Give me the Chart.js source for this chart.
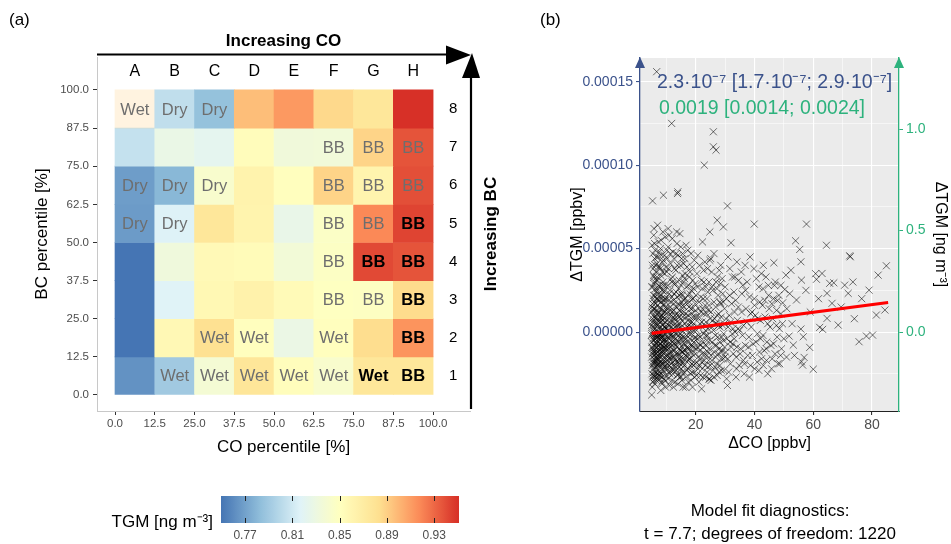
<!DOCTYPE html>
<html>
<head>
<meta charset="utf-8">
<script src="https://cdn.jsdelivr.net/npm/chart.js@4.4.1/dist/chart.umd.min.js"></script>
<style>
  html, body { margin: 0; padding: 0; background: #fff; width: 951px; height: 544px; overflow: hidden;
    font-family: "Liberation Sans", Arial, sans-serif; }
  .box { position: absolute; }
  .txt { position: absolute; white-space: nowrap; color: #000; }
  canvas { display: block; }
</style>
</head>
<body>
<div class="box" style="left:0;top:0;width:520px;height:470px"><canvas id="heat"></canvas></div>
<div class="box" style="left:520px;top:0;width:431px;height:544px"><canvas id="scatter"></canvas></div>
<div class="box" style="left:200px;top:480px;width:280px;height:64px"><canvas id="tgmbar"></canvas></div>

<div class="txt" style="left:9px;top:10px;font-size:17px;line-height:20px">(a)</div>
<div class="txt" style="left:540px;top:10px;font-size:17px;line-height:20px">(b)</div>
<div class="txt" style="left:0;width:213px;text-align:right;top:512px;font-size:17px;line-height:20px">TGM [ng m⁻³]</div>
<div class="txt" style="left:600px;width:340px;text-align:center;top:499px;font-size:17px;line-height:23px">Model fit diagnostics:<br>t = 7.7; degrees of freedom: 1220</div>
<div class="txt" style="left:657px;top:69px;font-size:19.5px;line-height:24px;color:#3b528b">2.3·10⁻⁷ [1.7·10⁻⁷; 2.9·10⁻⁷]</div>
<div class="txt" style="left:659px;top:95px;font-size:19.5px;line-height:24px;color:#2db27d">0.0019 [0.0014; 0.0024]</div>

<script>
// ---------- panel (a): TGM by CO / BC percentile class ----------
const coBins = ['A', 'B', 'C', 'D', 'E', 'F', 'G', 'H'];
const bcBins = ['1', '2', '3', '4', '5', '6', '7', '8'];
const percentileEdges = [0, 12.5, 25, 37.5, 50, 62.5, 75, 87.5, 100];

// mean TGM [ng m-3]; rows = BC class 1..8, columns = CO class A..H
const tgmMean = [
  [0.763, 0.790, 0.838, 0.877, 0.852, 0.842, 0.876, 0.876],
  [0.750, 0.857, 0.882, 0.851, 0.828, 0.851, 0.884, 0.914],
  [0.750, 0.817, 0.858, 0.864, 0.855, 0.849, 0.848, 0.885],
  [0.750, 0.833, 0.856, 0.854, 0.836, 0.847, 0.941, 0.937],
  [0.767, 0.816, 0.876, 0.862, 0.826, 0.846, 0.918, 0.943],
  [0.768, 0.780, 0.842, 0.863, 0.851, 0.888, 0.862, 0.939],
  [0.805, 0.827, 0.822, 0.853, 0.834, 0.835, 0.888, 0.937],
  [0.890, 0.803, 0.785, 0.897, 0.912, 0.886, 0.876, 0.950]
];
const cellAlpha = [
  [1, 1, 1, 1, 1, 1, 1, 1],
  [1, 1, 1, 1, 1, 1, 1, 1],
  [1, 1, 1, 1, 1, 1, 1, 1],
  [1, 1, 1, 1, 1, 1, 1, 1],
  [1, 1, 1, 1, 1, 1, 1, 1],
  [1, 1, 1, 1, 1, 1, 1, 1],
  [1, 1, 1, 1, 1, 1, 1, 1],
  [0.25, 1, 1, 1, 1, 1, 1, 1]
];
// air-mass regime assigned to each class
const regime = [
  ['',    'Wet', 'Wet', 'Wet', 'Wet', 'Wet', 'Wet', 'BB'],
  ['',    '',    'Wet', 'Wet', '',    'Wet', '',    'BB'],
  ['',    '',    '',    '',    '',    'BB',  'BB',  'BB'],
  ['',    '',    '',    '',    '',    'BB',  'BB',  'BB'],
  ['Dry', 'Dry', '',    '',    '',    'BB',  'BB',  'BB'],
  ['Dry', 'Dry', 'Dry', '',    '',    'BB',  'BB',  'BB'],
  ['',    '',    '',    '',    '',    'BB',  'BB',  'BB'],
  ['Wet', 'Dry', 'Dry', '',    '',    '',    '',    '']
];
const regimeBold = [
  [0, 0, 0, 0, 0, 0, 1, 1],
  [0, 0, 0, 0, 0, 0, 0, 1],
  [0, 0, 0, 0, 0, 0, 0, 1],
  [0, 0, 0, 0, 0, 0, 1, 1],
  [0, 0, 0, 0, 0, 0, 0, 1],
  [0, 0, 0, 0, 0, 0, 0, 0],
  [0, 0, 0, 0, 0, 0, 0, 0],
  [0, 0, 0, 0, 0, 0, 0, 0]
];
const tgmTicks = [0.77, 0.81, 0.85, 0.89, 0.93];
const tgmLimits = [0.75, 0.95];

// ---------- panel (b): ΔTGM vs ΔCO ----------
// [ΔCO ppbv, ΔTGM in 1e-6 ppbv]
const observations = [
  [5.0,-37.7],[5.3,78.6],[6.7,156],[5.2,-20],[5.5,-12],[5.8,-5],[6.1,2],[6.4,8],[5.1,15],[5.6,22],
  [6.9,-25],[7.2,-17],[5.4,-30],[6.2,-9],[6.6,-2],[7.0,4],[7.3,11],[5.9,18],[6.3,26],[5.7,33],
  [6.8,41],[7.1,-14],[5.0,-6],[5.2,3],[5.5,10],[6.0,-22],[6.5,-16],[7.4,-8],[5.3,-27],[6.1,14],
  [6.7,20],[7.0,-3],[5.6,-11],[5.8,29],[6.4,36],[7.2,45],[5.1,52],[6.0,-1],[6.9,7],[5.4,-18],
  [5.9,-24],[7.3,23],[6.2,49],[5.7,58],[6.6,-29],[5.0,12],[7.5,-11],[6.3,-6],[5.5,38],[6.8,-19],
  [7.4,2],[5.2,-33],[6.0,44],[6.4,-13],[7.1,16],[5.8,62],[6.7,-7],[5.3,27],[7.0,31],[6.1,-31],
  [5.0,-15],[7.2,-23],[6.5,5],[5.6,1],[6.9,-12],[7.3,39],[5.4,47],[6.2,-4],[5.9,9],[6.6,13],[5.1,-9],
  [5.4,-4],[5.7,6],[6.0,-14],[6.3,17],[6.6,-21],[6.9,0],[7.2,-6],[7.5,7],[5.1,-25],[5.5,20],
  [6.2,-17],[6.8,11],[7.4,-16],[5.9,-8],[6.5,24],[7.1,-28],[5.3,8],[6.0,30],[6.7,-11],[7.3,-1],
  [5.6,-19],[6.4,-24],[7.0,19],[5.2,-13],[5.8,-2],[6.1,-27],[6.9,26],[7.5,-4],[5.0,4],[6.3,-19],
  [4.9,-2],[5.1,6],[5.3,-10],[5.6,14],[5.8,-16],[6.0,22],[6.2,-26],[6.5,31],[6.7,-1],[6.9,-9],
  [7.1,5],[7.3,-19],[5.0,27],[5.2,40],[5.5,-22],[5.7,-29],[6.0,53],[6.3,-3],[6.6,9],[6.8,33],
  [7.0,-20],[7.3,54],[5.1,-1],[5.4,13],[5.6,-26],[5.9,3],[6.1,-12],[6.4,-7],[6.6,45],[6.9,-16],
  [7.1,-3],[7.4,21],[5.3,17],[5.6,34],[6.0,-18],[6.3,40],[6.7,-15],[7.0,64],[7.4,-26],
  [7.6,-26],[7.9,-18],[8.2,-10],[8.5,-3],[8.8,4],[9.1,12],[9.4,19],[9.7,-21],[7.8,27],[8.1,34],
  [8.4,-14],[8.7,-6],[9.0,1],[9.3,8],[9.6,-29],[9.9,15],[7.7,-1],[8.0,6],[8.3,22],[8.6,-17],
  [8.9,30],[9.2,-9],[9.5,-2],[9.8,39],[7.6,48],[8.2,55],[8.8,60],[9.0,82],[9.4,-24],[8.5,-31],
  [7.9,9],[9.1,-13],[9.7,3],[8.4,14],[8.0,-7],[9.3,25],[9.9,-16],[7.7,-20],[8.6,42],[9.5,-5],
  [8.1,-35],[8.9,-11],[9.2,17],[7.8,-28],[9.6,28],[8.3,-4],[8.7,2],[9.8,-10],[7.5,19],[8.0,38],
  [9.0,-19],[9.4,46],[8.5,10],[9.7,-33],
  [8.0,-15],[8.3,1],[8.6,7],[8.9,-23],[9.2,5],[9.5,12],[9.8,-8],[7.7,14],[8.1,-25],[8.4,20],
  [8.7,-12],[9.0,16],[9.3,-17],[9.6,-1],[9.9,-26],[7.9,-3],[8.2,-20],[8.8,9],[9.1,24],[9.4,-9],
  [9.7,20],[8.5,-27],[7.6,3],[9.0,-5],
  [7.6,12],[7.8,-7],[8.1,18],[8.3,-13],[8.6,25],[8.8,-2],[9.1,-21],[9.3,35],[9.6,6],[9.8,-14],
  [7.5,28],[7.8,-11],[8.0,50],[8.2,-1],[8.4,-30],[8.7,36],[8.9,11],[9.2,-4],[9.4,3],[9.6,57],[9.9,-20],
  [7.6,-13],[7.9,-24],[8.2,8],[8.4,-9],[8.7,-19],[9.0,28],[9.2,-28],[9.5,20],[9.8,2],
  [7.7,39],[8.0,-2],[8.3,46],[8.6,-8],[9.0,43],[9.3,-10],[9.7,-6],
  [10.1,-22],[10.4,-14],[10.7,-7],[11.0,0],[11.3,6],[11.6,13],[11.9,21],[12.2,-18],[12.5,29],[12.8,-11],
  [10.2,36],[10.5,-3],[10.8,4],[11.1,-25],[11.4,-16],[11.7,10],[12.0,-8],[12.3,2],[12.6,17],[12.9,-30],
  [10.3,44],[10.6,51],[10.9,-20],[11.2,25],[11.5,-2],[11.8,-12],[12.1,33],[12.4,-5],[12.7,8],[11.8,125],
  [10.0,14],[10.9,58],[11.5,41],[12.4,-33],[12.4,-23],[10.6,-28],[11.2,-9],[12.0,-1],[12.7,23],[10.3,7],
  [11.7,-19],[12.9,3],[10.8,-13],[11.4,18],[12.2,48],[10.5,28],[11.0,-32],[12.6,-15],
  [10.2,-17],[10.6,1],[11.0,10],[11.4,-7],[11.8,3],[12.2,-25],[12.6,-3],[10.4,20],[10.8,-24],[11.2,15],
  [11.6,-21],[12.0,12],[12.4,6],[12.8,-20],[10.1,-5],[11.3,-15],[12.5,13],[10.7,-10],[11.9,-29],[12.3,-11],
  [10.1,2],[10.3,-19],[10.5,12],[10.8,-4],[11.0,23],[11.3,-12],[11.5,7],[11.8,-23],[12.0,30],[12.3,-15],
  [12.5,0],[12.8,10],[10.2,49],[10.7,38],[11.1,-1],[11.6,32],[12.1,-6],[12.6,44],[10.4,-9],[10.9,-16],
  [11.4,3],[11.9,-3],[12.4,19],[12.9,-7],[10.6,62],[11.3,47],[12.0,56],[12.8,38],
  [13.1,-21],[13.4,-13],[13.7,-5],[14.0,2],[14.3,9],[14.6,16],[14.9,-17],[15.2,23],[15.5,-9],[15.8,30],
  [13.2,37],[13.5,-1],[13.8,83],[13.9,84],[14.1,-25],[14.4,-10],[14.7,5],[15.0,12],[15.3,-29],[15.6,-3],
  [15.9,19],[13.3,47],[13.6,53],[13.9,-14],[14.2,26],[14.5,-6],[14.8,40],[15.1,-22],[15.4,1],[15.7,-12],
  [13.0,8],[14.0,-31],[14.6,-19],[15.2,44],[15.7,-33],[13.4,15],[14.3,-2],[15.0,-15],[15.5,34],[13.8,-26],
  [14.9,3],[15.8,-7],[13.6,21],[14.4,31],[15.3,7],
  [13.2,-8],[13.6,6],[14.0,-18],[14.4,13],[14.8,-11],[15.2,-2],[15.6,9],[13.4,-23],[13.9,4],[14.6,-27],
  [15.1,18],[15.7,-18],[13.1,-1],[14.2,-13],[15.4,-24],[13.7,11],[14.9,-4],[15.9,-11],
  [13.0,-17],[13.3,24],[13.5,-9],[13.8,3],[14.0,17],[14.3,-21],[14.5,9],[14.8,-1],[15.0,28],[15.3,-12],
  [15.5,-19],[15.8,12],[13.1,29],[13.5,60],[14.0,46],[14.4,-16],[14.9,51],[15.4,22],[15.9,41],
  [13.4,-18],[13.9,-6],[14.5,22],[15.0,-27],[15.6,16],[13.7,40],[14.6,59],[15.5,47],
  [16.1,-20],[16.4,-11],[16.8,-4],[17.1,3],[17.5,10],[17.8,18],[18.2,-16],[18.5,25],[18.9,-8],[19.2,1],
  [19.6,-24],[19.9,13],[16.2,32],[16.6,-27],[17.0,39],[17.3,-13],[17.7,-1],[18.0,6],[18.4,47],[18.7,-19],
  [19.1,20],[19.4,-6],[19.8,29],[16.0,15],[16.5,-33],[17.2,22],[17.9,-10],[18.6,3],[19.3,-14],[18.9,-33],
  [16.9,-2],[17.6,28],[18.3,-25],[19.0,9],[19.7,-3],[16.3,5],[17.4,-17],[18.1,36],[18.8,14],[19.5,43],[16.7,52],
  [16.2,-7],[16.8,9],[17.4,-22],[18.0,-4],[18.6,11],[19.2,-20],[16.5,2],[17.1,-15],[17.7,15],[18.3,-8],
  [18.9,20],[19.5,-12],[16.0,-16],[17.0,-9],[18.5,-1],[19.9,-19],
  [16.0,-5],[16.3,20],[16.5,-14],[16.8,27],[17.0,-23],[17.3,7],[17.5,-6],[17.8,-16],[18.0,23],[18.3,1],
  [18.5,-12],[18.8,-24],[19.0,31],[19.3,5],[19.5,-4],[19.8,17],[16.4,35],[16.9,18],[17.3,49],[17.8,33],
  [18.3,14],[18.8,39],[19.3,26],[16.1,-24],[16.6,11],[17.2,-10],[17.7,4],[18.2,-20],[18.7,6],[19.2,-9],
  [19.7,9],[16.3,44],[17.5,-30],[18.4,-29],[19.6,-27],
  [20.2,-18],[20.6,-9],[21.0,-2],[21.4,5],[21.8,12],[22.2,-22],[22.6,20],[23.0,-13],[23.4,27],[23.8,-5],
  [24.2,2],[24.6,-28],[20.4,35],[20.8,-15],[21.2,9],[21.6,-26],[22.0,-34],[22.3,54],[22.9,100],[23.2,16],
  [23.6,-8],[24.0,38],[24.4,-17],[24.8,60],[20.1,22],[21.1,-30],[21.9,31],[22.7,-1],[23.5,6],[24.3,13],
  [20.7,46],[21.5,-11],[22.4,-6],[23.1,42],[24.1,-21],[24.9,8],[20.3,1],[22.8,30],
  [20.5,-4],[21.3,-20],[22.1,6],[22.9,-17],[23.7,11],[24.5,-10],[21.0,14],[21.7,-8],[22.5,-27],[23.3,1],
  [24.0,-2],[20.9,3],[22.2,-13],[23.9,-24],
  [20.1,-10],[20.4,9],[20.8,-22],[21.1,18],[21.5,-3],[21.8,-16],[22.2,26],[22.5,-9],[22.8,11],[23.2,-20],
  [23.5,-2],[23.8,20],[24.2,-12],[24.5,30],[24.8,-5],[20.6,27],[21.3,40],[22.0,-18],[22.7,37],[23.4,-27],
  [24.1,24],[24.8,43],[20.3,-26],[21.0,-7],[21.7,21],[22.4,14],[23.1,4],[23.8,-14],[24.5,16],
  [25.2,-14],[25.6,-6],[26.0,1],[26.4,8],[26.8,15],[27.2,-19],[27.6,22],[28.0,-10],[28.4,29],[28.8,-3],
  [29.2,4],[29.6,-23],[26.0,120],[26.0,111],[26.9,109],[27.3,67],[27.3,-26],[29.4,63],[25.4,36],[26.2,-27],
  [27.0,-8],[27.8,11],[28.6,-16],[29.4,18],[25.8,25],[26.6,-21],[27.4,33],[28.2,3],[29.0,-11],[29.8,14],
  [25.1,44],[28.5,40],[24.6,-28.3],
  [25.5,3],[26.3,-12],[27.1,5],[27.9,-24],[28.7,9],[29.5,-5],[26.7,-2],[28.3,-6],[25.0,-20],[29.9,-15],
  [25.2,12],[25.5,-17],[25.8,7],[26.2,18],[26.5,-8],[26.8,-15],[27.2,26],[27.5,-3],[27.8,4],[28.2,-20],
  [28.5,17],[28.8,-12],[29.2,23],[29.5,-1],[29.8,-9],[25.5,27],[26.2,47],[26.9,30],[27.6,-13],[28.3,18],
  [29.0,32],[29.7,5],[25.2,-29],[25.9,-23],[26.6,5],[27.3,10],[28.0,37],[28.7,-23],[29.4,-16],
  [30.2,-12],[30.6,-4],[31.0,3],[31.4,10],[31.8,-19],[32.2,17],[32.6,-7],[33.0,24],[33.4,0],[33.8,-15],
  [34.2,7],[34.6,31],[30.8,75.6],[30.8,-32],[32.0,53.5],[30.4,20],[31.2,-24],[32.4,-1],[33.2,12],[34.0,-9],
  [34.8,-20],[31.6,38],[33.6,19],[32.8,-13],[30.0,27],[34.4,2],[31.9,6],[33.1,-4],
  [30.3,8],[30.9,-16],[31.5,22],[32.1,-9],[32.7,2],[33.3,33],[33.9,-22],[34.5,15],[31.0,45],[32.5,33],
  [34.0,42],[30.5,-28],[31.7,-6],[33.7,-27],
  [35.3,-10],[35.9,-2],[36.5,-25],[37.1,14],[37.7,-14],[38.3,21],[38.9,3],[39.5,-7],[39.9,64.7],[40.3,10],
  [40.9,-18],[41.5,27],[42.1,-4],[42.7,16],[43.3,-11],[43.9,33],[44.5,5],[36.0,28],[37.4,6],[38.6,-20],
  [39.8,38],[41.0,-1],[42.4,-16],[43.6,9],[44.8,22],[35.6,12],[36.8,40],[38.0,-9],[40.6,32],[41.8,18],
  [43.0,-20],[44.2,-6],[45.0,14],[36.2,-17],[39.2,12],[42.9,26],
  [35.1,-13],[35.7,23],[36.3,4],[36.9,-8],[37.5,30],[38.1,-3],[38.7,11],[39.3,-14],[39.9,20],[40.5,-6],
  [41.1,8],[41.7,-12],[42.3,35],[42.9,-2],[43.5,19],[44.1,-17],[44.7,28],[35.5,36],[37.0,25],[38.5,45],
  [40.0,16],[41.5,-23],[43.0,40],[44.5,-25],[35.0,1],[36.6,-19],[38.3,-27],[40.1,-22],[42.0,7],[44.0,-10],
  [45.6,-8],[46.6,41.5],[46.2,8],[47.0,-13],[47.8,19],[48.5,2],[49.2,-10],[49.6,17.5],[50.3,25.5],[50.7,34.1],
  [51.8,-2.4],[53.2,-7.8],[54.3,19.2],[54.0,54.7],[55.4,49.5],[46.8,28],[48.0,-19],[49.0,11],[50.0,-4],[51.0,14],
  [52.0,23],[52.8,5],[53.6,-14],[45.8,-22],[47.5,4],[50.9,-15],[52.4,37],
  [45.3,3],[45.9,17],[46.5,-7],[47.1,30],[47.7,-3],[48.3,22],[48.9,-14],[49.5,5],[46.0,-16],[47.5,13],
  [49.0,28],[46.5,20],[48.6,-19],
  [55.8,42.1],[56.0,31.1],[55.8,1.8],[56.6,-2.8],[56.9,-15.2],[56.0,-17.8],[56.4,-19.8],[57.7,64.7],[58.8,-9.2],[60.0,-22.3],
  [61.1,31.6],[62.2,2.8],[63.0,35.1],[63.2,1.6],[64.5,52],[64.7,23.2],[64.7,8.2],[65.6,29.2],[66.4,17.2],[59.0,12],
  [61.8,20],[57.5,25],[60.8,35],
  [67.0,29.5],[68.5,4.2],[70.7,28.1],[71.9,23.2],[72.4,45.7],[72.6,45.1],[75.6,-5.8],[78.1,-2.4],[79.0,25.1],[80.2,-1.8],
  [81.5,10.2],[82.1,34.1],[84.4,13.2],[84.9,39.7],[69.5,15],[73.5,30],[76.5,20],[74.0,8]
];
// least-squares fit, ΔTGM in 1e-6 ppbv
const fitLine = [[5.0, -0.8], [85.5, 17.7]];
const coGrid = [10, 20, 30, 40, 50, 60, 70, 80];
const coTicks = [20, 40, 60, 80];
const dTgmGrid = [-0.000025, 0, 0.000025, 0.00005, 0.000075, 0.0001, 0.000125, 0.00015];
const dTgmTicks = [0, 0.00005, 0.0001, 0.00015];
const tgmConcTicks = [0, 0.5, 1.0];
const ngPerPpbv = 8220;

// ---------- colour scale ----------
const FONT = '"Liberation Sans", Arial, sans-serif';
Chart.defaults.font.family = FONT;
const rdylbu = ['#4575b4', '#91bfdb', '#e0f3f8', '#ffffbf', '#fee090', '#fc8d59', '#d73027'];
const stops = rdylbu.map(h => [1, 3, 5].map(i => parseInt(h.slice(i, i + 2), 16)));
function tgmColor(v, a = 1) {
  let t = (v - tgmLimits[0]) / (tgmLimits[1] - tgmLimits[0]);
  t = Math.max(0, Math.min(1, t));
  const p = t * (stops.length - 1);
  const i = Math.min(Math.floor(p), stops.length - 2);
  const f = p - i;
  const c = [0, 1, 2].map(k => Math.round(stops[i][k] + (stops[i + 1][k] - stops[i][k]) * f));
  return `rgba(${c[0]},${c[1]},${c[2]},${a})`;
}

// ---------- heatmap ----------
const cells = [];
bcBins.forEach((b, r) => coBins.forEach((c, k) => cells.push({
  x: (percentileEdges[k] + percentileEdges[k + 1]) / 2,
  y: [percentileEdges[r], percentileEdges[r + 1]],
  v: tgmMean[r][k], a: cellAlpha[r][k], label: regime[r][k], bold: regimeBold[r][k]
})));

const heatDecor = {
  id: 'heatDecor',
  afterDatasetsDraw(chart) {
    const { ctx, chartArea: ca, scales: { x, y } } = chart;
    ctx.save();
    ctx.textAlign = 'center';
    ctx.textBaseline = 'middle';
    cells.forEach(c => {
      if (!c.label) return;
      ctx.font = (c.bold ? 'bold ' : '') + '16.5px ' + FONT;
      ctx.fillStyle = c.bold ? '#000' : '#6e6e6e';
      ctx.fillText(c.label, x.getPixelForValue(c.x), y.getPixelForValue((c.y[0] + c.y[1]) / 2) + 1);
    });
    ctx.fillStyle = '#000';
    ctx.font = '16px ' + FONT;
    coBins.forEach((b, k) => ctx.fillText(b, x.getPixelForValue((percentileEdges[k] + percentileEdges[k + 1]) / 2), y.getPixelForValue(106)));
    ctx.font = '15px ' + FONT;
    bcBins.forEach((b, r) => ctx.fillText(b, x.getPixelForValue(106.3), y.getPixelForValue((percentileEdges[r] + percentileEdges[r + 1]) / 2)));

    // direction arrows along the top and right edges
    ctx.strokeStyle = '#000';
    ctx.fillStyle = '#000';
    ctx.lineWidth = 2.2;
    ctx.beginPath();
    ctx.moveTo(ca.left, ca.top - 2.5); ctx.lineTo(ca.right - 22, ca.top - 2.5);
    ctx.moveTo(ca.right + 1, ca.bottom - 2); ctx.lineTo(ca.right + 1, ca.top + 20);
    ctx.stroke();
    ctx.beginPath();
    ctx.moveTo(ca.right - 24, ca.top - 11.5); ctx.lineTo(ca.right + 1, ca.top - 2); ctx.lineTo(ca.right - 24, ca.top + 7.5);
    ctx.closePath(); ctx.fill();
    ctx.beginPath();
    ctx.moveTo(ca.right - 8, ca.top + 21); ctx.lineTo(ca.right + 2, ca.top - 4); ctx.lineTo(ca.right + 10, ca.top + 21);
    ctx.closePath(); ctx.fill();

    ctx.font = 'bold 17px ' + FONT;
    ctx.fillText('Increasing CO', (ca.left + ca.right) / 2, ca.top - 16);
    ctx.translate(ca.right + 21, (ca.top + ca.bottom) / 2);
    ctx.rotate(-Math.PI / 2);
    ctx.fillText('Increasing BC', 0, 0);
    ctx.restore();
  }
};

new Chart(document.getElementById('heat'), {
  type: 'bar',
  data: {
    datasets: [{
      data: cells,
      backgroundColor: ctx => ctx.raw ? tgmColor(ctx.raw.v, ctx.raw.a) : '#fff',
      borderWidth: 0,
      barPercentage: 1,
      categoryPercentage: 1
    }]
  },
  options: {
    responsive: true, maintainAspectRatio: false, animation: false, events: [],
    layout: { padding: { left: 32, top: 57, right: 50, bottom: 12 } },
    plugins: { legend: { display: false }, tooltip: { enabled: false } },
    scales: {
      x: {
        type: 'linear', min: -5.66, max: 111.6, offset: false,
        afterBuildTicks: s => { s.ticks = percentileEdges.map(v => ({ value: v })); },
        afterFit: s => { s.height = 47; },
        ticks: { callback: v => Number(v).toFixed(1), autoSkip: false, maxRotation: 0, font: { size: 11.5 }, color: '#4d4d4d', padding: 2 },
        grid: { offset: false, drawOnChartArea: false, tickLength: 4, tickColor: '#333' },
        border: { color: '#c8c8c8', width: 1 },
        title: { display: true, text: 'CO percentile [%]', font: { size: 17 }, color: '#000', padding: 0 }
      },
      y: {
        type: 'linear', min: -5.25, max: 110.8,
        afterBuildTicks: s => { s.ticks = percentileEdges.map(v => ({ value: v })); },
        afterFit: s => { s.width = 65; },
        ticks: { callback: v => Number(v).toFixed(1), autoSkip: false, font: { size: 11.5 }, color: '#4d4d4d', padding: 4 },
        grid: { drawOnChartArea: false, tickLength: 4, tickColor: '#333' },
        border: { color: '#c8c8c8', width: 1 },
        title: { display: true, text: 'BC percentile [%]', font: { size: 17 }, color: '#000', padding: 0 }
      }
    }
  },
  plugins: [heatDecor]
});

// ---------- scatter with regression ----------
const near = (list, v) => list.some(t => Math.abs(t - v) < 1e-9);
const BLUE = '#3b528b', GREEN = '#2db27d';
const dTgmLimits = [-0.0000473, 0.0001642];

const panelB = {
  id: 'panelB',
  beforeDraw(chart) {
    const { ctx, chartArea: ca } = chart;
    ctx.save();
    ctx.fillStyle = '#ebebeb';
    ctx.fillRect(ca.left, ca.top, ca.right - ca.left, ca.bottom - ca.top);
    ctx.restore();
  },
  afterDraw(chart) {
    const { ctx, chartArea: ca } = chart;
    const head = (x, col) => {
      ctx.fillStyle = col;
      ctx.beginPath();
      ctx.moveTo(x, ca.top - 1); ctx.lineTo(x - 5, ca.top + 10); ctx.lineTo(x + 5, ca.top + 10);
      ctx.closePath(); ctx.fill();
    };
    ctx.save();
    head(ca.left, BLUE);
    head(ca.right, GREEN);
    ctx.restore();
  }
};

new Chart(document.getElementById('scatter'), {
  type: 'scatter',
  data: {
    datasets: [
      {
        type: 'line', order: 0, yAxisID: 'yL',
        data: fitLine.map(([x, y]) => ({ x, y: y * 1e-6 })),
        borderColor: '#ff0000', borderWidth: 3.2, pointRadius: 0, fill: false
      },
      {
        order: 1, yAxisID: 'yL',
        data: observations.map(([x, y]) => ({ x, y: y * 1e-6 })),
        pointStyle: 'crossRot', pointRadius: 5, borderWidth: 0.9,
        borderColor: 'rgba(0,0,0,0.62)', backgroundColor: 'rgba(0,0,0,0)'
      }
    ]
  },
  options: {
    responsive: true, maintainAspectRatio: false, animation: false, events: [],
    layout: { padding: { left: 48, top: 58, right: 0, bottom: 91 } },
    plugins: { legend: { display: false }, tooltip: { enabled: false } },
    scales: {
      x: {
        type: 'linear', min: 1.02, max: 89.2,
        afterBuildTicks: s => { s.ticks = coGrid.map(v => ({ value: v })); },
        afterFit: s => { s.height = 42; },
        ticks: { callback: v => near(coTicks, v) ? String(v) : '', autoSkip: false, maxRotation: 0, color: '#4d4d4d', font: { size: 14 }, padding: 2 },
        grid: {
          color: '#ffffff',
          lineWidth: c => (c.tick && near(coTicks, c.tick.value)) ? 1.1 : 0.55,
          tickLength: 4,
          tickColor: c => (c.tick && near(coTicks, c.tick.value)) ? '#333' : 'rgba(0,0,0,0)'
        },
        border: { color: '#222', width: 1 },
        title: { display: true, text: 'ΔCO [ppbv]', font: { size: 16 }, color: '#000', padding: 0 }
      },
      yL: {
        type: 'linear', position: 'left', min: dTgmLimits[0], max: dTgmLimits[1],
        afterBuildTicks: s => { s.ticks = dTgmGrid.map(v => ({ value: v })); },
        afterFit: s => { s.width = 72; },
        ticks: { callback: v => near(dTgmTicks, v) ? Number(v).toFixed(5) : '', autoSkip: false, color: BLUE, font: { size: 14 }, padding: 3 },
        grid: {
          color: '#ffffff',
          lineWidth: c => (c.tick && near(dTgmTicks, c.tick.value)) ? 1.1 : 0.55,
          tickLength: 4,
          tickColor: c => (c.tick && near(dTgmTicks, c.tick.value)) ? BLUE : 'rgba(0,0,0,0)'
        },
        border: { color: BLUE, width: 1.3 },
        title: { display: true, text: 'ΔTGM [ppbv]', font: { size: 16 }, color: '#000', padding: 0 }
      },
      yR: {
        type: 'linear', position: 'right', min: dTgmLimits[0] * ngPerPpbv, max: dTgmLimits[1] * ngPerPpbv,
        afterBuildTicks: s => { s.ticks = tgmConcTicks.map(v => ({ value: v })); },
        afterFit: s => { s.width = 52; },
        ticks: { callback: v => Number(v).toFixed(1), autoSkip: false, color: GREEN, font: { size: 14 }, padding: 3 },
        grid: { drawOnChartArea: false, tickLength: 4, tickColor: GREEN },
        border: { color: GREEN, width: 1.3 },
        title: { display: true, text: 'ΔTGM [ng m⁻³]', font: { size: 16 }, color: '#000', padding: 1 }
      }
    }
  },
  plugins: [panelB]
});

// ---------- colour bar ----------
const tgmBarDraw = {
  id: 'tgmBarDraw',
  beforeDatasetsDraw(chart) {
    const { ctx, chartArea: ca, scales: { x } } = chart;
    ctx.save();
    const g = ctx.createLinearGradient(ca.left, 0, ca.right, 0);
    const n = 60;
    for (let i = 0; i <= n; i++) {
      const v = x.min + (x.max - x.min) * i / n;
      g.addColorStop(i / n, tgmColor(v));
    }
    ctx.fillStyle = g;
    ctx.fillRect(ca.left, ca.top, ca.right - ca.left, ca.bottom - ca.top);
    ctx.strokeStyle = '#222';
    ctx.lineWidth = 1;
    tgmTicks.forEach(t => {
      const px = Math.round(x.getPixelForValue(t)) + 0.5;
      ctx.beginPath();
      ctx.moveTo(px, ca.top); ctx.lineTo(px, ca.top + 5);
      ctx.moveTo(px, ca.bottom - 5); ctx.lineTo(px, ca.bottom);
      ctx.stroke();
    });
    ctx.restore();
  }
};

new Chart(document.getElementById('tgmbar'), {
  type: 'scatter',
  data: { datasets: [] },
  options: {
    responsive: true, maintainAspectRatio: false, animation: false, events: [],
    layout: { padding: { left: 21, right: 21, top: 16, bottom: 3 } },
    plugins: { legend: { display: false }, tooltip: { enabled: false } },
    scales: {
      x: {
        type: 'linear', min: 0.7496, max: 0.951,
        afterBuildTicks: s => { s.ticks = tgmTicks.map(v => ({ value: v })); },
        afterFit: s => { s.height = 18; },
        ticks: { callback: v => Number(v).toFixed(2), autoSkip: false, maxRotation: 0, color: '#4d4d4d', font: { size: 12 }, padding: 5 },
        grid: { display: false, drawTicks: false, tickLength: 0 },
        border: { display: false }
      },
      y: { display: false, min: 0, max: 1 }
    }
  },
  plugins: [tgmBarDraw]
});
</script>
</body>
</html>
